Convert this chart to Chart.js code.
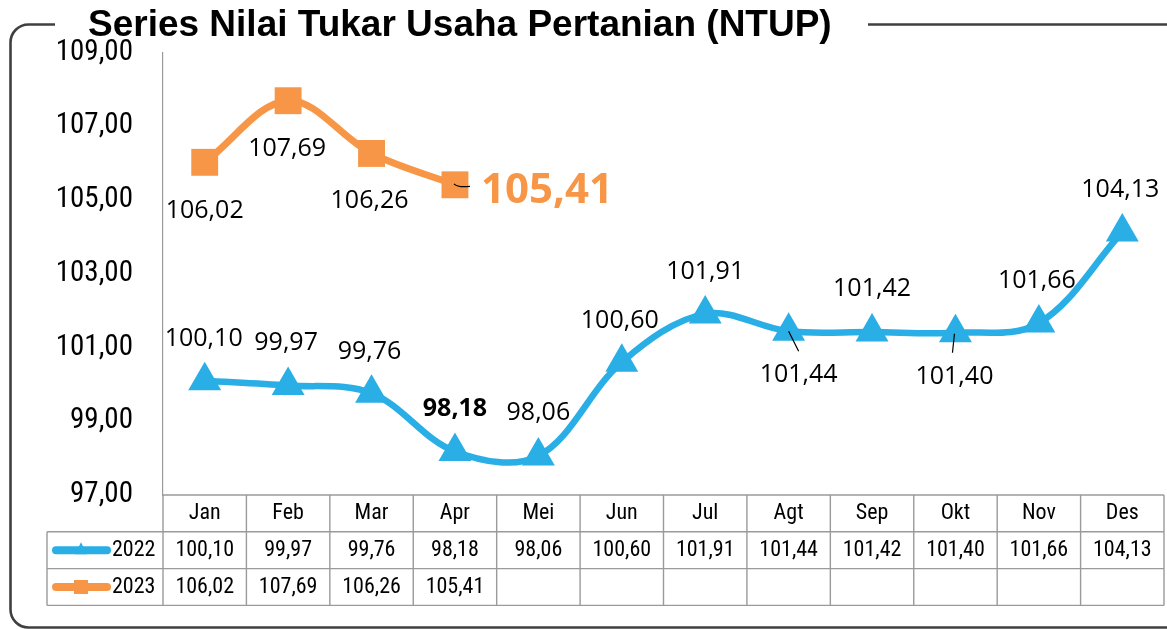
<!DOCTYPE html>
<html><head><meta charset="utf-8">
<script src="https://cdn.jsdelivr.net/npm/chart.js@4/dist/chart.umd.min.js"></script>
<style>html,body{margin:0;padding:0;background:#fff;}#wrap{width:1167px;height:629px;}</style>
</head><body><div id="wrap"><canvas id="c" width="1167" height="629"></canvas></div>
<script>
const months = ['Jan','Feb','Mar','Apr','Mei','Jun','Jul','Agt','Sep','Okt','Nov','Des'];
const ntup2022 = [100.10, 99.97, 99.76, 98.18, 98.06, 100.60, 101.91, 101.44, 101.42, 101.40, 101.66, 104.13];
const ntup2023 = [106.02, 107.69, 106.26, 105.41, null, null, null, null, null, null, null, null];
const seriesNames = ['2022', '2023'];
const yTickValues = [97, 99, 101, 103, 105, 107, 109];
const yMin = 97, yMax = 109, yStep = 2;
const titleText = 'Series Nilai Tukar Usaha Pertanian (NTUP)';

const BLUE = '#29AEE6', ORANGE = '#F79646';
const SANS = "'Liberation Sans', Arial, sans-serif";
const NARROW = "'Roboto Condensed', 'Liberation Sans', sans-serif";
const LABELF = "'Open Sans', sans-serif";
const fmt = v => v.toFixed(2).replace('.', ',');

// label centre offsets from each point (px)
const labelOffsets = [
  [[-1,-44],[-2,-44],[-2,-43],[0,-44],[0,-45],[-2,-43],[0,-44],[10,42],[0,-45],[-1,42],[-2,-44],[-2,-44]],
  [[0,47],[-1,46],[-2,46],[92,3]]
];

const tickFont = { family: NARROW, size: 29 };
const mctx = document.createElement('canvas').getContext('2d');
mctx.font = tickFont.size + 'px ' + tickFont.family;
const widestTick = Math.max(...yTickValues.map(v => mctx.measureText(fmt(v)).width));

const framePlugin = {
  id: 'frame',
  beforeDraw(chart) {
    const ctx = chart.ctx;
    ctx.save();
    ctx.fillStyle = '#fff';
    ctx.fillRect(0, 0, chart.width, chart.height);
    ctx.strokeStyle = '#404040';
    ctx.lineWidth = 2.6;
    const L = 10.5, T = 24.5, B = 627.5, r = 18;
    ctx.beginPath();
    ctx.moveTo(55, T);
    ctx.lineTo(L + r, T);
    ctx.arcTo(L, T, L, T + r, r);
    ctx.lineTo(L, B - r);
    ctx.arcTo(L, B, L + r, B, r);
    ctx.lineTo(chart.width + 5, B);
    ctx.moveTo(868, T);
    ctx.lineTo(chart.width + 5, T);
    ctx.stroke();
    ctx.restore();
  }
};

const labelPlugin = {
  id: 'labels',
  afterDatasetsDraw(chart) {
    const ctx = chart.ctx;
    ctx.save();
    ctx.textAlign = 'center';
    ctx.textBaseline = 'alphabetic';
    chart.data.datasets.forEach((ds, d) => {
      const meta = chart.getDatasetMeta(d);
      ds.data.forEach((v, i) => {
        if (v == null) return;
        const p = meta.data[i];
        const off = labelOffsets[d][i];
        let size = 25, weight = 'normal', color = '#000';
        if (d === 0 && i === 3) weight = 'bold';
        if (d === 1 && i === 3) { size = 42; weight = 'bold'; color = ORANGE; }
        ctx.font = weight + ' ' + size + 'px ' + LABELF;
        ctx.fillStyle = color;
        ctx.fillText(fmt(v), p.x + off[0], p.y + off[1] + 0.357 * size);
      });
    });
    ctx.strokeStyle = '#000';
    ctx.lineWidth = 1.2;
    const m0 = chart.getDatasetMeta(0).data, m1 = chart.getDatasetMeta(1).data;
    ctx.beginPath();
    ctx.moveTo(m0[7].x, m0[7].y); ctx.lineTo(m0[7].x + 10, m0[7].y + 20);
    ctx.moveTo(m0[9].x - 1, m0[9].y + 1); ctx.lineTo(m0[9].x - 3, m0[9].y + 20);
    ctx.moveTo(m1[3].x - 1, m1[3].y - 1);
    ctx.quadraticCurveTo(m1[3].x + 3, m1[3].y + 3, m1[3].x + 15, m1[3].y + 1.5);
    ctx.stroke();
    ctx.restore();
  }
};

const tablePlugin = {
  id: 'table',
  afterDraw(chart) {
    const ctx = chart.ctx, xs = chart.scales.x, ca = chart.chartArea;
    const step = xs.getPixelForValue(1) - xs.getPixelForValue(0);
    const x0 = ca.left, x1 = x0 + step * months.length;
    const legL = 47;
    const rowH = 36.8;
    const r0 = ca.bottom, r1 = r0 + rowH, r2 = r1 + rowH, r3 = r2 + rowH;
    ctx.save();
    ctx.strokeStyle = '#9a9a9a';
    ctx.lineWidth = 1.4;
    ctx.beginPath();
    ctx.moveTo(x0, r0); ctx.lineTo(x1, r0);
    [r1, r2, r3].forEach(y => { ctx.moveTo(legL, y); ctx.lineTo(x1, y); });
    ctx.moveTo(legL, r1); ctx.lineTo(legL, r3);
    for (let k = 0; k <= months.length; k++) {
      const x = x0 + step * k;
      ctx.moveTo(x, r0); ctx.lineTo(x, r3);
    }
    ctx.stroke();

    ctx.fillStyle = '#000';
    ctx.font = '22px ' + NARROW;
    ctx.textAlign = 'center';
    ctx.textBaseline = 'middle';
    months.forEach((m, i) => {
      const cx = xs.getPixelForValue(i);
      ctx.fillText(m, cx, r0 + rowH / 2);
      if (ntup2022[i] != null) ctx.fillText(fmt(ntup2022[i]), cx, r1 + rowH / 2);
      if (ntup2023[i] != null) ctx.fillText(fmt(ntup2023[i]), cx, r2 + rowH / 2);
    });
    const keys = [[BLUE, 'tri', r1 + rowH / 2], [ORANGE, 'sq', r2 + rowH / 2]];
    keys.forEach(([col, shape, cy], k) => {
      ctx.strokeStyle = col;
      ctx.lineWidth = 8;
      ctx.lineCap = 'round';
      ctx.beginPath(); ctx.moveTo(56, cy); ctx.lineTo(107, cy); ctx.stroke();
      ctx.fillStyle = col;
      if (shape === 'tri') {
        ctx.beginPath(); ctx.moveTo(81, cy - 8); ctx.lineTo(87, cy + 4); ctx.lineTo(75, cy + 4); ctx.closePath(); ctx.fill();
      } else {
        ctx.fillRect(74, cy - 7, 14, 14);
      }
      ctx.fillStyle = '#000';
      ctx.textAlign = 'left';
      ctx.fillText(seriesNames[k], 112, cy);
    });
    ctx.restore();
  }
};

new Chart(document.getElementById('c'), {
  type: 'line',
  data: {
    labels: months,
    datasets: [
      { label: seriesNames[0], data: ntup2022, borderColor: BLUE, backgroundColor: BLUE, borderWidth: 6.5,
        pointStyle: 'triangle', pointRadius: 19, pointBorderWidth: 0, pointBackgroundColor: BLUE,
        tension: 0.35, clip: false },
      { label: seriesNames[1], data: ntup2023, borderColor: ORANGE, backgroundColor: ORANGE, borderWidth: 7,
        pointStyle: 'rect', pointRadius: 19, pointBorderWidth: 0, pointBackgroundColor: ORANGE,
        tension: 0.35, clip: false, spanGaps: false }
    ]
  },
  options: {
    responsive: false,
    devicePixelRatio: 1,
    animation: false,
    layout: { autoPadding: false, padding: { left: 88, right: 3, top: 0, bottom: 134 } },
    plugins: {
      legend: { display: false },
      tooltip: { enabled: false },
      title: { display: true, text: titleText, align: 'start', color: '#000',
        font: { family: SANS, size: 37, weight: 'bold', lineHeight: 1.2 },
        padding: { top: 4, bottom: 4 } }
    },
    scales: {
      x: { type: 'category', offset: true, display: false },
      y: { min: yMin, max: yMax,
        ticks: { stepSize: yStep, mirror: true, crossAlign: 'far', padding: -30 - widestTick,
          color: '#000', callback: v => fmt(v), font: tickFont },
        grid: { display: false, drawTicks: false },
        border: { display: true, color: '#9a9a9a', width: 1.2 },
        afterFit(s) { s.width = 75; } }
    }
  },
  plugins: [framePlugin, labelPlugin, tablePlugin]
});
</script></body></html>
